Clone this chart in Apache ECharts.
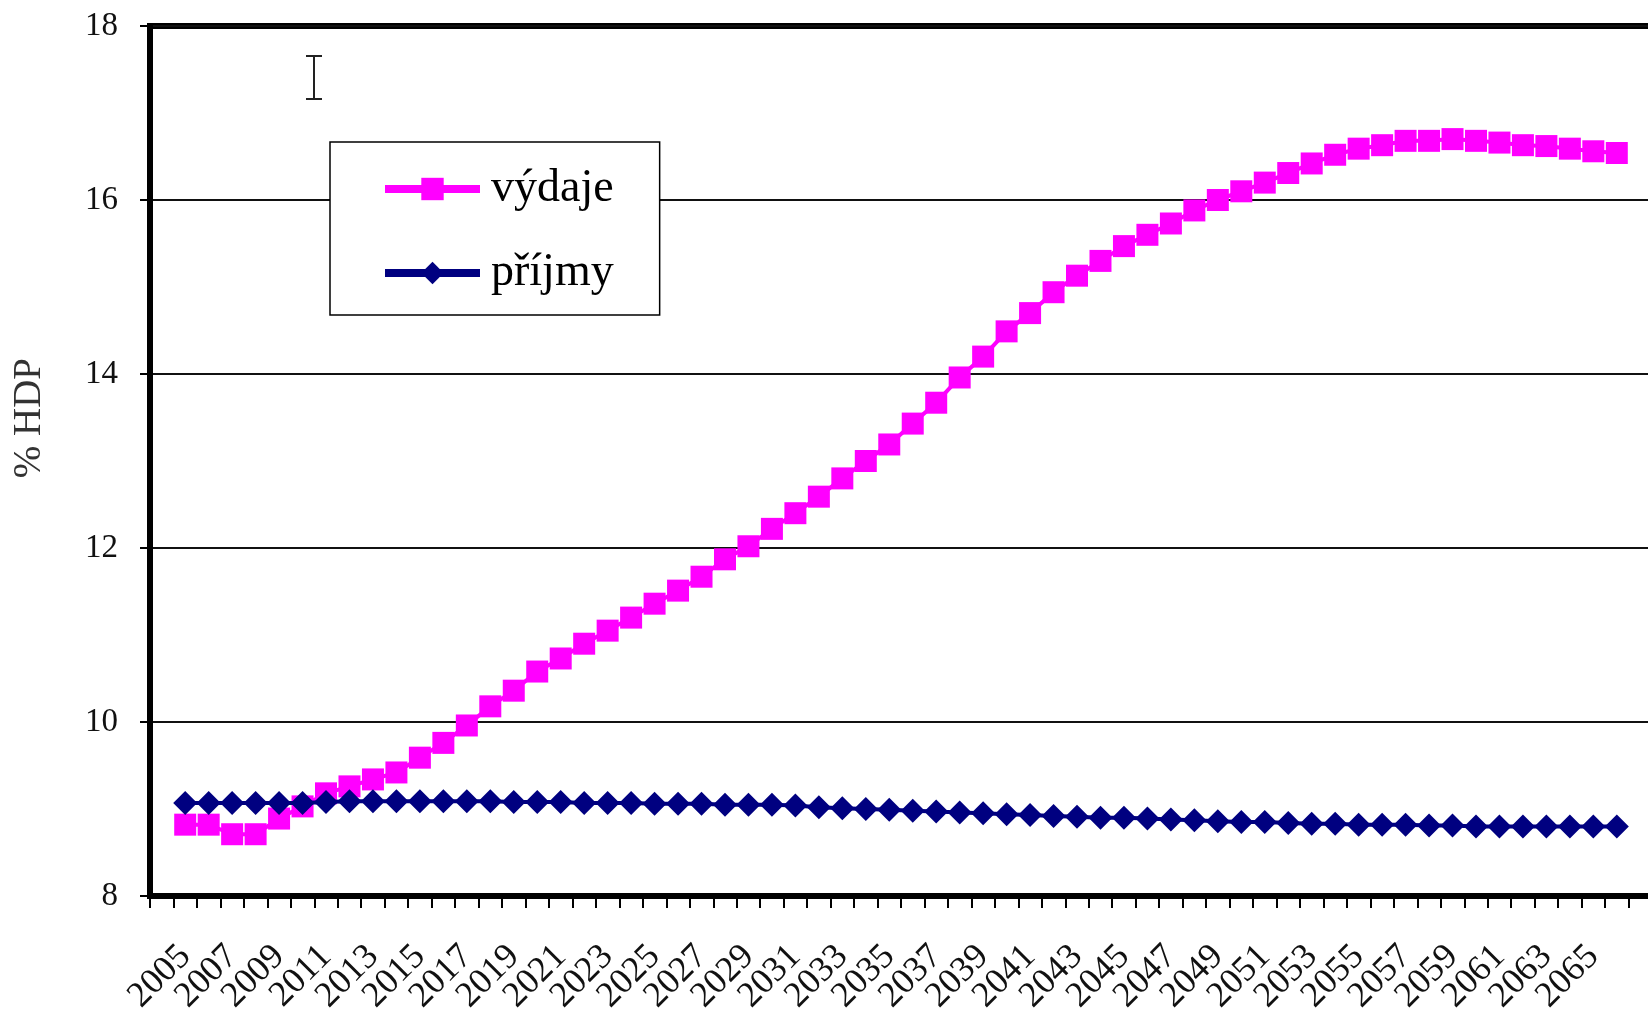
<!DOCTYPE html>
<html>
<head>
<meta charset="utf-8">
<script src="https://cdn.jsdelivr.net/npm/echarts@6/dist/echarts.min.js"></script>
<style>
html,body{margin:0;padding:0;background:#fff;}
#chart{width:1648px;height:1009px;}
</style>
</head>
<body>
<div id="chart"></div>
<script>
const years = ['2005','2006','2007','2008','2009','2010','2011','2012','2013','2014','2015','2016','2017','2018','2019','2020','2021','2022','2023','2024','2025','2026','2027','2028','2029','2030','2031','2032','2033','2034','2035','2036','2037','2038','2039','2040','2041','2042','2043','2044','2045','2046','2047','2048','2049','2050','2051','2052','2053','2054','2055','2056','2057','2058','2059','2060','2061','2062','2063','2064','2065','2066'];
const vydaje = [8.82,8.82,8.71,8.71,8.89,9.03,9.18,9.26,9.34,9.42,9.59,9.76,9.96,10.18,10.36,10.58,10.73,10.90,11.05,11.20,11.36,11.51,11.67,11.87,12.02,12.22,12.40,12.59,12.80,13.00,13.19,13.43,13.67,13.96,14.20,14.49,14.70,14.94,15.13,15.30,15.47,15.60,15.73,15.88,16.00,16.10,16.20,16.31,16.42,16.52,16.59,16.63,16.68,16.68,16.70,16.68,16.66,16.63,16.62,16.59,16.56,16.54];
const prijmy = [9.07,9.07,9.07,9.07,9.07,9.07,9.08,9.09,9.09,9.09,9.09,9.09,9.09,9.09,9.08,9.08,9.08,9.07,9.07,9.07,9.06,9.06,9.06,9.05,9.05,9.05,9.04,9.02,9.01,9.00,8.99,8.98,8.97,8.96,8.95,8.94,8.93,8.92,8.91,8.90,8.90,8.89,8.88,8.87,8.86,8.85,8.85,8.84,8.83,8.83,8.82,8.82,8.82,8.81,8.81,8.80,8.80,8.80,8.80,8.80,8.80,8.80];
const yTicks = {min: 8, max: 18, interval: 2};
const seriesNames = ['výdaje', 'příjmy'];
const yAxisTitle = '% HDP';

const FONT = 'Liberation Serif';
const cats = [''].concat(years, ['']);

const chart = echarts.init(document.getElementById('chart'), null, {renderer: 'canvas'});
chart.setOption({
  animation: false,
  backgroundColor: '#fff',
  grid: {
    left: 150, top: 26, width: 1502, height: 870,
    containLabel: false, outerBoundsMode: 'none',
    show: true, borderColor: '#000', borderWidth: 6, backgroundColor: 'transparent'
  },
  xAxis: {
    type: 'category',
    data: cats,
    boundaryGap: true,
    axisLine: {show: true, lineStyle: {color: '#000', width: 5}},
    axisTick: {show: true, interval: 0, length: 12, lineStyle: {color: '#000', width: 2}},
    axisLabel: {
      interval: 0,
      formatter: function (val) { return (val !== '' && (Number(val) - 2005) % 2 === 0) ? val : ''; },
      rotate: 45, margin: 55, fontSize: 36, fontFamily: FONT, color: '#111',
      hideOverlap: false
    },
    splitLine: {show: false}
  },
  yAxis: {
    type: 'value',
    min: yTicks.min, max: yTicks.max, interval: yTicks.interval,
    axisLine: {show: true, lineStyle: {color: '#000', width: 6}},
    axisTick: {show: true, length: 10, lineStyle: {color: '#000', width: 2}},
    axisLabel: {margin: 32, fontSize: 33, fontFamily: FONT, color: '#111'},
    splitLine: {show: true, lineStyle: {color: '#111', width: 2}}
  },
  legend: {
    orient: 'vertical',
    left: 330, top: 142,
    padding: [23, 46, 18, 51],
    itemGap: 36,
    itemWidth: 95, itemHeight: 28,
    borderColor: '#000', borderWidth: 1.5, backgroundColor: '#fff',
    lineStyle: {width: 8},
    textStyle: {fontSize: 46, fontFamily: FONT, color: '#000', lineHeight: 48, padding: [0, 0, 0, 6]},
    data: seriesNames
  },
  graphic: [
    {
      type: 'text',
      left: 10, top: 418 - 60,
      rotation: Math.PI / 2,
      style: {text: yAxisTitle, font: '39px "Liberation Serif"', fill: '#333'}
    },
    {type: 'line', shape: {x1: 314, y1: 56, x2: 314, y2: 99}, style: {stroke: '#222', lineWidth: 2}},
    {type: 'line', shape: {x1: 306, y1: 56, x2: 322, y2: 56}, style: {stroke: '#222', lineWidth: 2}},
    {type: 'line', shape: {x1: 306, y1: 99, x2: 322, y2: 99}, style: {stroke: '#222', lineWidth: 2}}
  ],
  series: [
    {
      name: seriesNames[0], type: 'line',
      data: years.map((y, i) => [y, vydaje[i]]),
      symbol: 'rect', symbolSize: 22, showAllSymbol: true,
      lineStyle: {color: '#FF00FF', width: 4},
      itemStyle: {color: '#FF00FF'},
      z: 3
    },
    {
      name: seriesNames[1], type: 'line',
      data: years.map((y, i) => [y, prijmy[i]]),
      symbol: 'diamond', symbolSize: 24, showAllSymbol: true,
      lineStyle: {color: '#000080', width: 4},
      itemStyle: {color: '#000080'},
      z: 4
    }
  ]
});
</script>
</body>
</html>
